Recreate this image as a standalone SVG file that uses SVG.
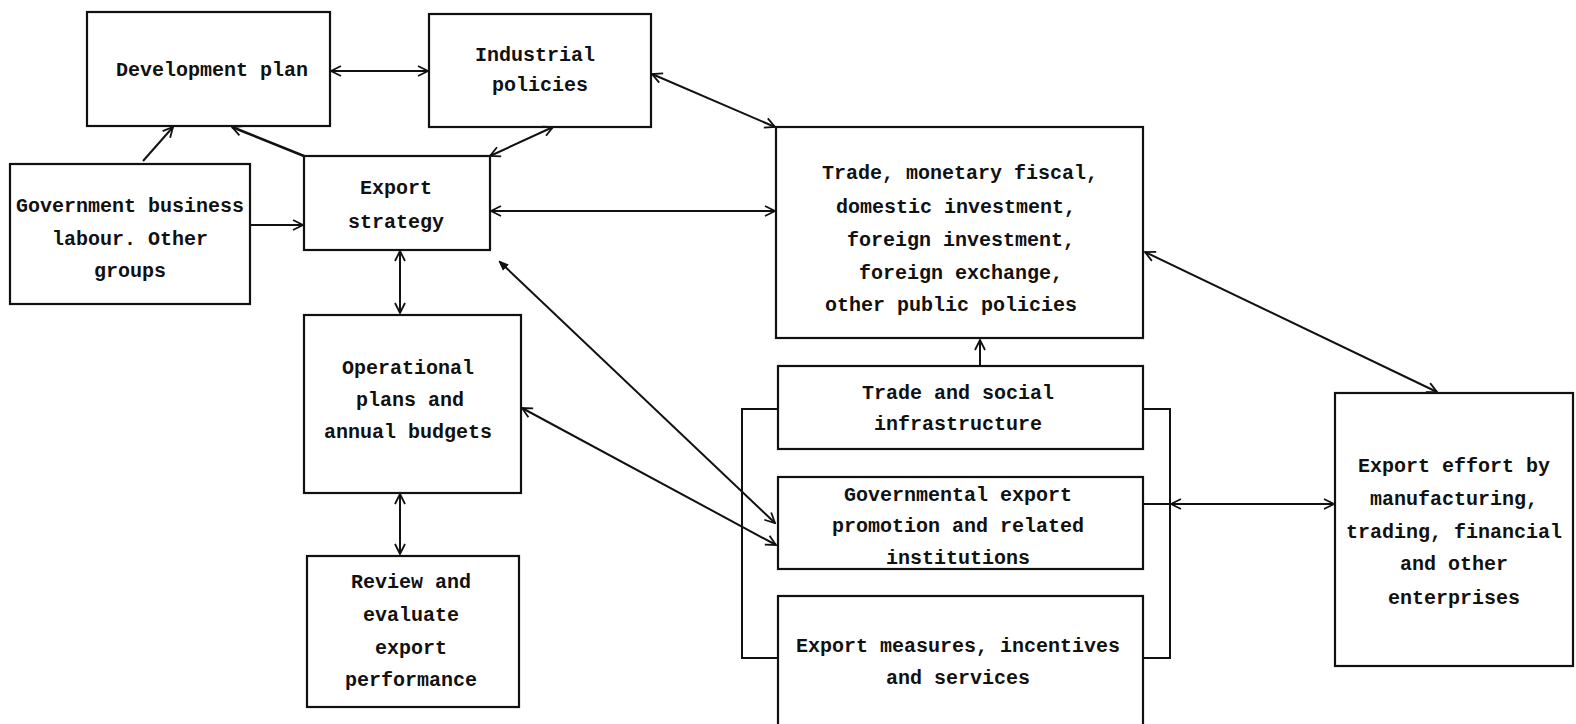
<svg xmlns="http://www.w3.org/2000/svg" width="1576" height="724" viewBox="0 0 1576 724">
<defs>
<style>
.box{fill:none;stroke:#111;stroke-width:2.2}
.t{font-family:"Liberation Mono","DejaVu Sans Mono",monospace;font-size:20px;font-weight:bold;fill:#111;text-anchor:middle}
.c{fill:none;stroke:#111;stroke-width:2}
.ce{fill:none;stroke:#111;stroke-width:2;marker-end:url(#ah)}
.cb{fill:none;stroke:#111;stroke-width:2;marker-start:url(#as);marker-end:url(#ah)}
</style>
<marker id="ah" viewBox="0 0 12 12" refX="11" refY="6" markerWidth="12" markerHeight="12" markerUnits="userSpaceOnUse" orient="auto">
<path d="M1,1 L11,6 L1,11" fill="none" stroke="#111" stroke-width="1.8"/>
</marker>
<marker id="as" viewBox="0 0 12 12" refX="1" refY="6" markerWidth="12" markerHeight="12" markerUnits="userSpaceOnUse" orient="auto">
<path d="M11,1 L1,6 L11,11" fill="none" stroke="#111" stroke-width="1.8"/>
</marker>
<marker id="dot" viewBox="0 0 12 12" refX="2" refY="6" markerWidth="10" markerHeight="10" markerUnits="userSpaceOnUse" orient="auto">
<path d="M11,2 L1,6 L11,10 Z" fill="#111" stroke="#111" stroke-width="1.5"/>
</marker>
</defs>
<rect width="1576" height="724" fill="#fff"/>

<g id="connectors">
<line class="cb" x1="331" y1="71" x2="428" y2="71"/>
<line class="ce" x1="143" y1="161" x2="173" y2="127"/>
<line class="ce" x1="304" y1="156" x2="232" y2="127" style="stroke-width:2.6"/>
<line class="cb" x1="490" y1="156" x2="553" y2="127"/>
<line class="cb" x1="652" y1="74" x2="775" y2="127"/>
<line class="ce" x1="251" y1="225" x2="303" y2="225"/>
<line class="cb" x1="491" y1="211" x2="775" y2="211"/>
<line class="cb" x1="400" y1="251" x2="400" y2="313"/>
<line class="cb" x1="400" y1="494" x2="400" y2="554"/>
<line class="c" x1="500" y1="262" x2="775" y2="523" style="marker-start:url(#dot);marker-end:url(#ah)"/>
<line class="cb" x1="522" y1="408" x2="776" y2="545"/>
<line class="ce" x1="980" y1="365" x2="980" y2="340"/>
<line class="c" x1="1143" y1="504" x2="1170" y2="504"/>
<line class="cb" x1="1171" y1="504" x2="1334" y2="504"/>
<line class="cb" x1="1145" y1="252" x2="1437" y2="392"/>
<path class="c" d="M778,409 H742 V658 H778"/>
<path class="c" d="M1143,409 H1170 V658 H1143"/>
</g>

<g id="development-plan">
<rect class="box" x="87" y="12" width="243" height="114"/>
<text class="t" x="212" y="76">Development plan</text>
</g>

<g id="industrial-policies">
<rect class="box" x="429" y="14" width="222" height="113"/>
<text class="t" x="535" y="61">Industrial</text>
<text class="t" x="540" y="91">policies</text>
</g>

<g id="government">
<rect class="box" x="10" y="164" width="240" height="140"/>
<text class="t" x="130" y="212">Government business</text>
<text class="t" x="130" y="245">labour. Other</text>
<text class="t" x="130" y="277">groups</text>
</g>

<g id="export-strategy">
<rect class="box" x="304" y="156" width="186" height="94"/>
<text class="t" x="396" y="194">Export</text>
<text class="t" x="396" y="228">strategy</text>
</g>

<g id="trade-policies">
<rect class="box" x="776" y="127" width="367" height="211"/>
<text class="t" x="960" y="179">Trade, monetary fiscal,</text>
<text class="t" x="956" y="213">domestic investment,</text>
<text class="t" x="961" y="246">foreign investment,</text>
<text class="t" x="961" y="279">foreign exchange,</text>
<text class="t" x="951" y="311">other public policies</text>
</g>

<g id="operational-plans">
<rect class="box" x="304" y="315" width="217" height="178"/>
<text class="t" x="408" y="374">Operational</text>
<text class="t" x="410" y="406">plans and</text>
<text class="t" x="408" y="438">annual budgets</text>
</g>

<g id="review">
<rect class="box" x="307" y="556" width="212" height="151"/>
<text class="t" x="411" y="588">Review and</text>
<text class="t" x="411" y="621">evaluate</text>
<text class="t" x="411" y="654">export</text>
<text class="t" x="411" y="686">performance</text>
</g>

<g id="trade-infrastructure">
<rect class="box" x="778" y="366" width="365" height="83"/>
<text class="t" x="958" y="399">Trade and social</text>
<text class="t" x="958" y="430">infrastructure</text>
</g>

<g id="governmental-export-promotion">
<rect class="box" x="778" y="477" width="365" height="92"/>
<text class="t" x="958" y="501">Governmental export</text>
<text class="t" x="958" y="532">promotion and related</text>
<text class="t" x="958" y="564">institutions</text>
</g>

<g id="export-measures">
<rect class="box" x="778" y="596" width="365" height="140"/>
<text class="t" x="958" y="652">Export measures, incentives</text>
<text class="t" x="958" y="684">and services</text>
</g>

<g id="export-effort">
<rect class="box" x="1335" y="393" width="238" height="273"/>
<text class="t" x="1454" y="472">Export effort by</text>
<text class="t" x="1454" y="505">manufacturing,</text>
<text class="t" x="1454" y="538">trading, financial</text>
<text class="t" x="1454" y="570">and other</text>
<text class="t" x="1454" y="604">enterprises</text>
</g>
</svg>
